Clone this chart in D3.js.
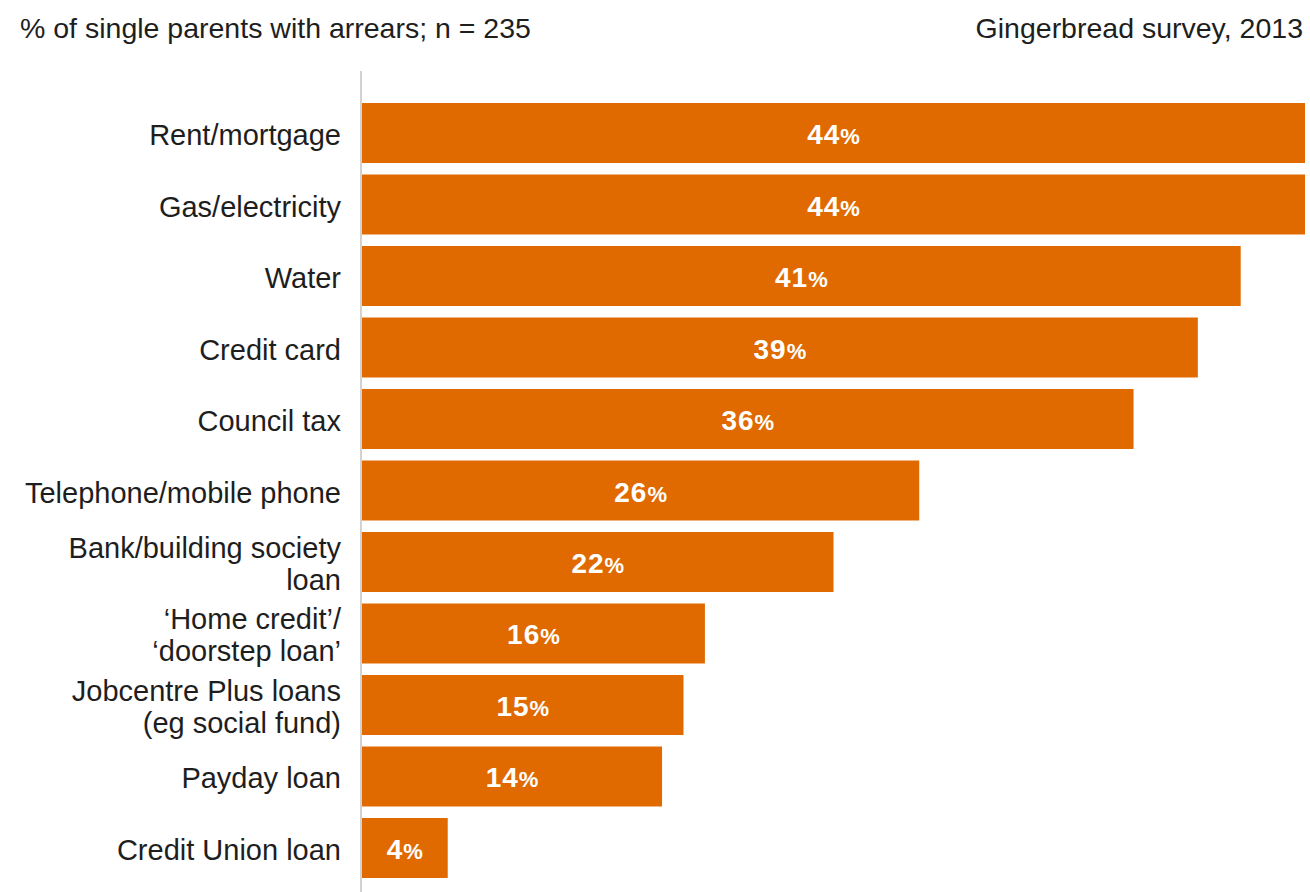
<!DOCTYPE html>
<html>
<head>
<meta charset="utf-8">
<script src="https://cdn.jsdelivr.net/npm/d3@7/dist/d3.min.js"></script>
<style>
  html, body { margin: 0; padding: 0; background: #fff; }
  svg { display: block; }
  text { font-family: "Liberation Sans", Arial, Helvetica, sans-serif; }
</style>
</head>
<body>
<svg id="chart" width="1310" height="892"></svg>
<script>
// Arrears by type of bill or loan
const categories = [
  "Rent/mortgage",
  "Gas/electricity",
  "Water",
  "Credit card",
  "Council tax",
  "Telephone/mobile phone",
  "Bank/building society|loan",
  "\u2018Home credit\u2019/|\u2018doorstep loan\u2019",
  "Jobcentre Plus loans|(eg social fund)",
  "Payday loan",
  "Credit Union loan"
];
const values = [44, 44, 41, 39, 36, 26, 22, 16, 15, 14, 4];
const subtitle = "% of single parents with arrears; n = 235";
const source = "Gingerbread survey, 2013";

const W = 1310, H = 892;
const svg = d3.select("#chart");

const x = d3.scaleLinear().domain([0, 44]).range([362, 1305]);
const y = d3.scaleBand().domain(categories).range([91.5, 889.5]).padding(0.161);

const orange = "#e06a00";
const ink = "#1e1e1e";

// header texts
svg.append("text")
  .attr("x", 20).attr("y", 38)
  .attr("font-size", 28.5).attr("fill", ink)
  .text(subtitle);
svg.append("text")
  .attr("x", 1303).attr("y", 38)
  .attr("text-anchor", "end")
  .attr("font-size", 28.5).attr("fill", ink)
  .text(source);

// bars
svg.append("g").selectAll("rect")
  .data(values)
  .join("rect")
  .attr("x", x(0))
  .attr("y", (d, i) => y(categories[i]))
  .attr("width", d => x(d) - x(0))
  .attr("height", y.bandwidth())
  .attr("fill", orange);

// vertical baseline
svg.append("line")
  .attr("x1", x(0) - 1).attr("x2", x(0) - 1)
  .attr("y1", 71).attr("y2", H)
  .attr("stroke", "#d2d2d2").attr("stroke-width", 2);

// category labels (| marks a line break)
const labels = svg.append("g").selectAll("text")
  .data(categories)
  .join("text")
  .attr("text-anchor", "end")
  .attr("font-size", 29)
  .attr("fill", ink);
labels.each(function (c) {
  const lines = c.split("|");
  const cy = y(c) + y.bandwidth() / 2;
  const lh = 32;
  const t = d3.select(this);
  lines.forEach((ln, k) => {
    t.append("tspan")
      .attr("x", 341)
      .attr("y", cy + (k - (lines.length - 1) / 2) * lh + 12)
      .text(ln);
  });
});

// value labels inside the bars
const vl = svg.append("g").selectAll("text")
  .data(values)
  .join("text")
  .attr("x", d => (x(0) + x(d)) / 2)
  .attr("y", (d, i) => y(categories[i]) + y.bandwidth() / 2 + 11)
  .attr("text-anchor", "middle")
  .attr("fill", "#fff");
vl.append("tspan")
  .attr("font-size", 28).attr("font-weight", "bold")
  .attr("letter-spacing", 1)
  .text(d => d);
vl.append("tspan")
  .attr("font-size", 22).attr("font-weight", "bold")
  .text("%");
</script>
</body>
</html>
